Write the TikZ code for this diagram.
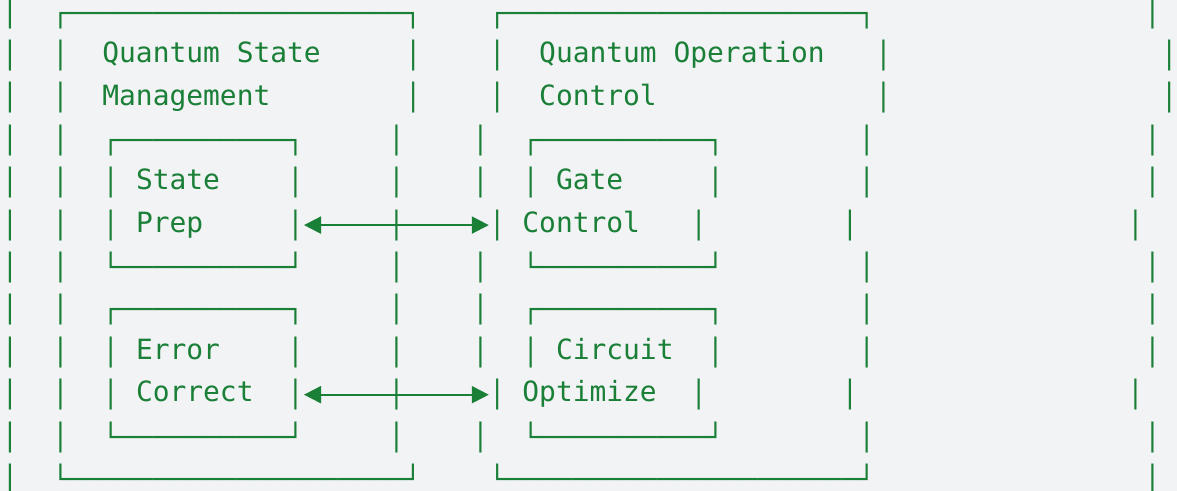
\documentclass[tikz,border=0pt]{standalone}
\usepackage{fontspec}
\usepackage{graphicx}
\usetikzlibrary{arrows.meta}
\newfontfamily\monofam{DejaVu Sans Mono}
\definecolor{ink}{RGB}{26,127,55}
\definecolor{paper}{RGB}{242,243,245}
\newcommand\glyphfont{\monofam\fontsize{13.95pt}{16pt}\selectfont}
\tikzset{
  glyph/.style={anchor=base west, inner sep=0pt, outer sep=0pt, text=ink, font=\glyphfont},
  conn/.style={draw=ink, line width=1pt,
    arrows={Triangle[length=8.5pt,width=8.5pt]-Triangle[length=8.5pt,width=8.5pt]}},
}
\newsavebox\barbox
\newdimen\barh
\newdimen\barc
\newcommand\boxat[4]{\node[glyph] (#1) at ({1.6+16.8*#2},{13.1+42.4*#3+\bshift}) {\scalebox{1}[\bs]{#4}};}
\newcommand\wordat[4]{\node[glyph] (#1) at ({1.6+16.8*#2},{20.3+42.4*#3}) {#4};}
\begin{document}
\sbox\barbox{\glyphfont │}%
\barh=\dimexpr\ht\barbox+\dp\barbox\relax
\barc=\dimexpr\ht\barbox-\dp\barbox\relax
\pgfmathsetmacro\bs{15.5/\barh}%
\pgfmathsetmacro\bshift{\bs*\barc}%
\begin{tikzpicture}[x=0.5pt,y=-0.5pt]
\fill[paper] (0,0) rectangle (1177,491);
\useasboundingbox (0,0) rectangle (1177,491);
% row 0
\boxat{r0c0}{0}{0}{│}
\boxat{r0c3}{3}{0}{┌────────────────────┐}
\boxat{r0c29}{29}{0}{┌─────────────────────┐}
\boxat{r0c68}{68}{0}{│}
% row 1
\boxat{r1c0}{0}{1}{│}
\boxat{r1c3}{3}{1}{│}
\wordat{qsm1}{6}{1}{Quantum State}
\boxat{r1c24}{24}{1}{│}
\boxat{r1c29}{29}{1}{│}
\wordat{qoc1}{32}{1}{Quantum Operation}
\boxat{r1c52}{52}{1}{│}
\boxat{r1c69}{69}{1}{│}
% row 2
\boxat{r2c0}{0}{2}{│}
\boxat{r2c3}{3}{2}{│}
\wordat{qsm2}{6}{2}{Management}
\boxat{r2c24}{24}{2}{│}
\boxat{r2c29}{29}{2}{│}
\wordat{qoc2}{32}{2}{Control}
\boxat{r2c52}{52}{2}{│}
\boxat{r2c69}{69}{2}{│}
% row 3
\boxat{r3c0}{0}{3}{│}
\boxat{r3c3}{3}{3}{│}
\boxat{r3c6}{6}{3}{┌──────────┐}
\boxat{r3c23}{23}{3}{│}
\boxat{r3c28}{28}{3}{│}
\boxat{r3c31}{31}{3}{┌──────────┐}
\boxat{r3c51}{51}{3}{│}
\boxat{r3c68}{68}{3}{│}
% row 4
\boxat{r4c0}{0}{4}{│}
\boxat{r4c3}{3}{4}{│}
\boxat{r4c6}{6}{4}{│}
\wordat{sp1}{8}{4}{State}
\boxat{r4c17}{17}{4}{│}
\boxat{r4c23}{23}{4}{│}
\boxat{r4c28}{28}{4}{│}
\boxat{r4c31}{31}{4}{│}
\wordat{gc1}{33}{4}{Gate}
\boxat{r4c42}{42}{4}{│}
\boxat{r4c51}{51}{4}{│}
\boxat{r4c68}{68}{4}{│}
% row 5
\boxat{r5c0}{0}{5}{│}
\boxat{r5c3}{3}{5}{│}
\boxat{r5c6}{6}{5}{│}
\wordat{sp2}{8}{5}{Prep}
\boxat{r5c17}{17}{5}{│}
\boxat{r5c23}{23}{5}{│}
\boxat{r5c29}{29}{5}{│}
\wordat{gc2}{31}{5}{Control}
\boxat{r5c41}{41}{5}{│}
\boxat{r5c50}{50}{5}{│}
\boxat{r5c67}{67}{5}{│}
\draw[conn] (r5c17.east) -- (r5c29.west);
% row 6
\boxat{r6c0}{0}{6}{│}
\boxat{r6c3}{3}{6}{│}
\boxat{r6c6}{6}{6}{└──────────┘}
\boxat{r6c23}{23}{6}{│}
\boxat{r6c28}{28}{6}{│}
\boxat{r6c31}{31}{6}{└──────────┘}
\boxat{r6c51}{51}{6}{│}
\boxat{r6c68}{68}{6}{│}
% row 7
\boxat{r7c0}{0}{7}{│}
\boxat{r7c3}{3}{7}{│}
\boxat{r7c6}{6}{7}{┌──────────┐}
\boxat{r7c23}{23}{7}{│}
\boxat{r7c28}{28}{7}{│}
\boxat{r7c31}{31}{7}{┌──────────┐}
\boxat{r7c51}{51}{7}{│}
\boxat{r7c68}{68}{7}{│}
% row 8
\boxat{r8c0}{0}{8}{│}
\boxat{r8c3}{3}{8}{│}
\boxat{r8c6}{6}{8}{│}
\wordat{ec1}{8}{8}{Error}
\boxat{r8c17}{17}{8}{│}
\boxat{r8c23}{23}{8}{│}
\boxat{r8c28}{28}{8}{│}
\boxat{r8c31}{31}{8}{│}
\wordat{co1}{33}{8}{Circuit}
\boxat{r8c42}{42}{8}{│}
\boxat{r8c51}{51}{8}{│}
\boxat{r8c68}{68}{8}{│}
% row 9
\boxat{r9c0}{0}{9}{│}
\boxat{r9c3}{3}{9}{│}
\boxat{r9c6}{6}{9}{│}
\wordat{ec2}{8}{9}{Correct}
\boxat{r9c17}{17}{9}{│}
\boxat{r9c23}{23}{9}{│}
\boxat{r9c29}{29}{9}{│}
\wordat{co2}{31}{9}{Optimize}
\boxat{r9c41}{41}{9}{│}
\boxat{r9c50}{50}{9}{│}
\boxat{r9c67}{67}{9}{│}
\draw[conn] (r9c17.east) -- (r9c29.west);
% row 10
\boxat{r10c0}{0}{10}{│}
\boxat{r10c3}{3}{10}{│}
\boxat{r10c6}{6}{10}{└──────────┘}
\boxat{r10c23}{23}{10}{│}
\boxat{r10c28}{28}{10}{│}
\boxat{r10c31}{31}{10}{└──────────┘}
\boxat{r10c51}{51}{10}{│}
\boxat{r10c68}{68}{10}{│}
% row 11
\boxat{r11c0}{0}{11}{│}
\boxat{r11c3}{3}{11}{└────────────────────┘}
\boxat{r11c29}{29}{11}{└─────────────────────┘}
\boxat{r11c68}{68}{11}{│}
\end{tikzpicture}
\end{document}
